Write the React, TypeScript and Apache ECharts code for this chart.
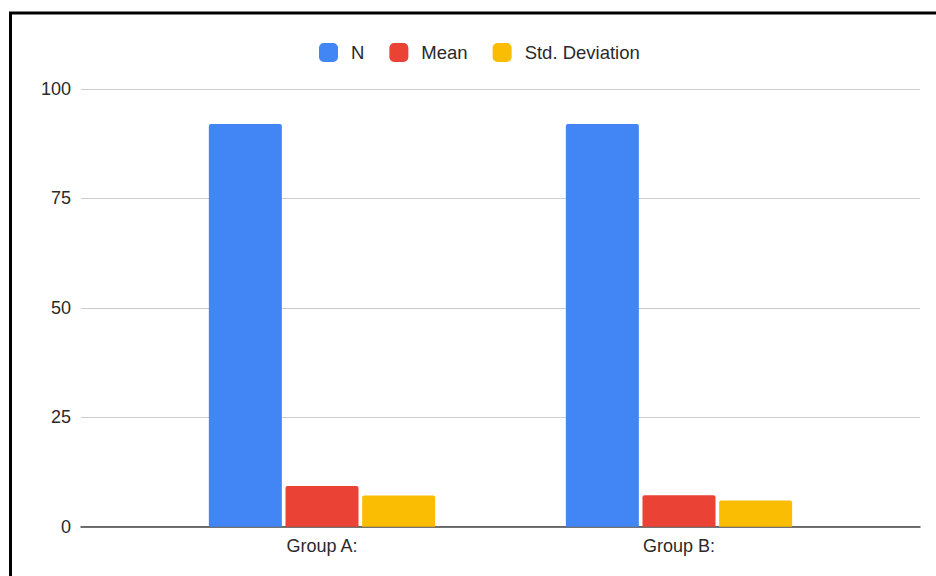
import React, { useEffect, useRef } from "react";
import * as echarts from "echarts";

const categories = ["Group A:", "Group B:"];
const seriesNames = ["N", "Mean", "Std. Deviation"];
const nValues = [92, 92];
const meanValues = [9.3, 7.2];
const stdValues = [7.1, 6.0];
const yTicks = { min: 0, max: 100, interval: 25 };
const colors = ["#4285F4", "#EA4335", "#FBBC04"];

const FONT = "'Liberation Sans', Arial, sans-serif";

export default function App() {
  const ref = useRef<HTMLDivElement>(null);
  useEffect(() => {
    if (!ref.current) return;
    const chart = echarts.init(ref.current, undefined, { renderer: "svg" });
    const values = [nValues, meanValues, stdValues];
    chart.setOption({
      animation: false,
      backgroundColor: "#ffffff",
      textStyle: { fontFamily: FONT },
      graphic: [
        {
          type: "rect",
          shape: { x: 10.5, y: 13, width: 1000, height: 1000 },
          style: { fill: "none", stroke: "#000", lineWidth: 3 },
          z: 100,
        },
      ],
      legend: {
        data: seriesNames,
        left: 314,
        top: 38,
        icon: "roundRect",
        itemWidth: 19,
        itemHeight: 19,
        itemGap: 25,
        textStyle: { fontSize: 18.5, color: "#2a2a2a", fontFamily: FONT, padding: [0, 0, 0, 8] },
      },
      grid: [
        { left: 81, right: 16, top: 89, height: 437.7 },
        { left: 143.5, width: 714, top: 89, height: 437.7 },
      ],
      xAxis: [
        {
          gridIndex: 0,
          type: "category",
          data: [""],
          axisLine: { show: true, lineStyle: { color: "#444", width: 1.5 } },
          axisTick: { show: false },
          axisLabel: { show: false },
        },
        {
          gridIndex: 1,
          type: "category",
          data: categories,
          axisLine: { show: false },
          axisTick: { show: false },
          axisLabel: { fontSize: 18, color: "#2a2a2a", margin: 10, fontFamily: FONT },
        },
      ],
      yAxis: [
        {
          gridIndex: 0,
          type: "value",
          min: yTicks.min,
          max: yTicks.max,
          interval: yTicks.interval,
          axisLine: { show: false },
          axisTick: { show: false },
          axisLabel: { fontSize: 18, color: "#2a2a2a", margin: 10, fontFamily: FONT },
          splitLine: { lineStyle: { color: "#cccccc", width: 1 } },
        },
        {
          gridIndex: 1,
          type: "value",
          min: yTicks.min,
          max: yTicks.max,
          interval: yTicks.interval,
          show: false,
        },
      ],
      series: seriesNames.map((name, i) => ({
        name,
        type: "bar",
        xAxisIndex: 1,
        yAxisIndex: 1,
        data: values[i],
        barWidth: 73,
        barGap: "5%",
        itemStyle: { color: colors[i], borderRadius: [2, 2, 0, 0] },
      })),
    });
    return () => chart.dispose();
  }, []);
  return (
    <div
      ref={ref}
      style={{ position: "fixed", left: 0, top: 0, width: 936, height: 576 }}
    />
  );
}
